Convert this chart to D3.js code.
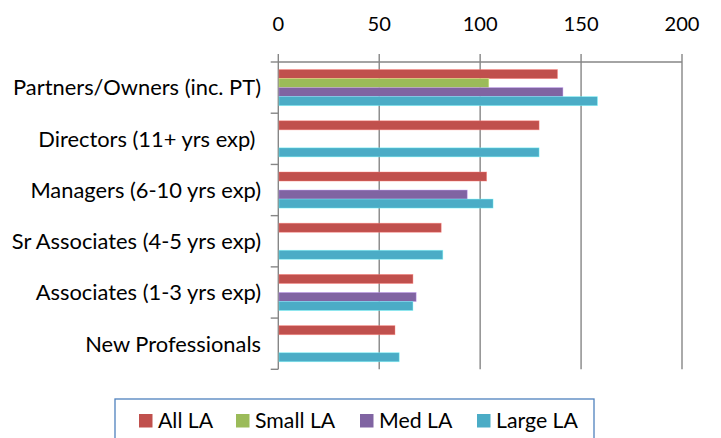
<!DOCTYPE html>
<html><head><meta charset="utf-8">
<script src="https://cdn.jsdelivr.net/npm/d3@7"></script>
<style>body{margin:0;background:#fff}svg{display:block}text{font-family:Lato,"Open Sans",sans-serif;fill:#000}</style>
</head><body><svg id="c" width="721" height="438"></svg>
<script>
const categories = ["Partners/Owners (inc. PT)","Directors (11+ yrs exp) ","Managers (6-10 yrs exp)","Sr Associates (4-5 yrs exp)","Associates (1-3 yrs exp)","New Professionals"];
const seriesNames = ["All LA","Small LA","Med LA","Large LA"];
const allLA   = [138.3, 129.2, 103.2, 80.7, 66.7, 57.8];
const smallLA = [104.3, null, null, null, null, null];
const medLA   = [141, null, 93.6, null, 68.3, null];
const largeLA = [158.1, 129.2, 106.4, 81.5, 66.7, 59.9];
const xTicks = [0, 50, 100, 150, 200];
const colors = ["#C0504D","#9BBB59","#8064A2","#4BACC6"];
const seriesValues = [allLA, smallLA, medLA, largeLA];

const svg = d3.select("#c");
const x = d3.scaleLinear().domain([0, 200]).range([278.3, 682]);
const y0 = d3.scaleBand().domain(categories).range([62, 369.3]).padding(0);
const y1 = d3.scaleBand().domain(seriesNames).range([0, y0.bandwidth()]).paddingInner(0).paddingOuter(0.84);

function fitSize(sel, base, target) {
  const w = sel.node().getComputedTextLength();
  return base * target / w;
}

const g = svg.append("g");
g.selectAll("line.grid").data(xTicks).join("line")
  .attr("x1", d => x(d)).attr("x2", d => x(d))
  .attr("y1", 54).attr("y2", 369.3)
  .attr("stroke", "#868686").attr("stroke-width", 1.4);
g.append("line").attr("x1", x(0)).attr("x2", x(200)).attr("y1", 62).attr("y2", 62)
  .attr("stroke", "#868686").attr("stroke-width", 1.4);
const catEdges = categories.map(c => y0(c)).concat([y0(categories[categories.length-1]) + y0.bandwidth()]);
g.selectAll("line.ctick").data(catEdges).join("line")
  .attr("x1", 270.7).attr("x2", x(0)).attr("y1", d => d).attr("y2", d => d)
  .attr("stroke", "#868686").attr("stroke-width", 1.4);

// tick labels
const xt = svg.selectAll("text.xt").data(xTicks).join("text")
  .attr("x", d => x(d)).attr("y", 31).attr("text-anchor", "middle")
  .style("font-size", "20px").text(d => d);
const tsz = fitSize(xt.filter((d, i) => i === 2), 20, 35);
xt.style("font-size", tsz + "px");

// category labels
const cl = svg.selectAll("text.cat").data(categories).join("text")
  .attr("x", 261).attr("y", d => y0(d) + y0.bandwidth()/2).attr("dy", "0.36em")
  .attr("text-anchor", "end").style("font-size", "20px").style("white-space", "pre")
  .text(d => d);
const csz = fitSize(cl.filter((d, i) => i === 0), 20, 248);
cl.style("font-size", csz + "px");

// bars
const rows = [];
categories.forEach((c, i) => seriesNames.forEach((s, j) => {
  const v = seriesValues[j][i];
  if (v != null) rows.push({c, s, v, color: colors[j]});
}));
svg.append("g").selectAll("rect").data(rows).join("rect")
  .attr("x", x(0) + 0.7).attr("y", d => y0(d.c) + y1(d.s))
  .attr("width", d => x(d.v) - x(0) - 0.7).attr("height", y1.bandwidth())
  .attr("fill", d => d.color)
  .attr("stroke", d => d3.color(d.color).brighter(1.2)).attr("stroke-opacity", 0.5).attr("stroke-width", 0.8);

// legend
const lg = svg.append("g");
lg.append("rect").attr("x", 115).attr("y", 399).attr("width", 479).attr("height", 45)
  .attr("fill", "#fff").attr("stroke", "#4F81BD").attr("stroke-width", 1.3);
const legX = [139, 236, 360, 477];
const lt = [];
seriesNames.forEach((s, j) => {
  lg.append("rect").attr("x", legX[j]).attr("y", 414).attr("width", 13.5).attr("height", 13.5).attr("fill", colors[j]);
  lt.push(lg.append("text").attr("x", legX[j] + 19).attr("y", 428).style("font-size", "20px").text(s));
});
const lsz = fitSize(lt[3], 20, 82);
lt.forEach(t => t.style("font-size", lsz + "px"));
</script></body></html>
